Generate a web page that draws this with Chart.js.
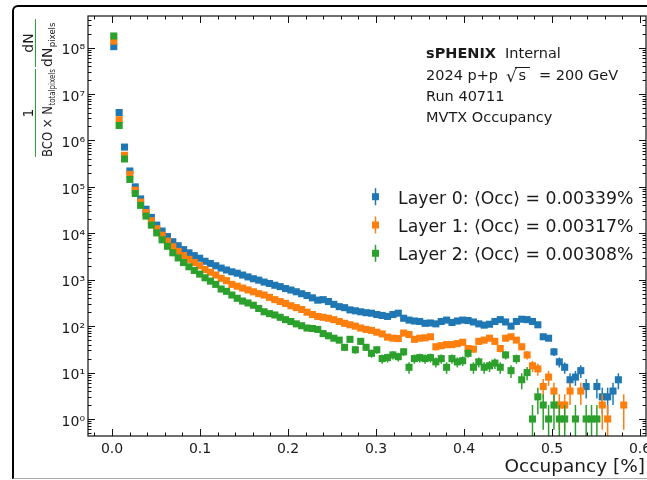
<!DOCTYPE html>
<html>
<head>
<meta charset="utf-8">
<script src="https://cdn.jsdelivr.net/npm/chart.js@4"></script>
<style>
html, body { margin: 0; padding: 0; background: #fff; }
#wrap { position: relative; width: 647px; height: 480px; overflow: hidden; }
#wrap canvas { position: absolute; left: 0; top: 0; }
#frame { position: absolute; left: 12px; top: 5px; width: 700px; height: 474px; box-sizing: border-box;
         border-left: 2px solid #000; border-top: 2px solid #000; border-bottom: 1px solid #aaa;
         border-top-left-radius: 6px; }
</style>
</head>
<body>
<div id="wrap">
  <canvas id="occChart" width="647" height="480"></canvas>
  <div id="frame"></div>
</div>
<script>
// bin centres, occupancy in %
var occupancy = [
  0.0020, 0.0081, 0.0142, 0.0203, 0.0264, 0.0325, 0.0386, 0.0447, 0.0508, 0.0569,
  0.0630, 0.0691, 0.0752, 0.0813, 0.0874, 0.0935, 0.0996, 0.1057, 0.1118, 0.1179,
  0.1240, 0.1301, 0.1362, 0.1423, 0.1484, 0.1545, 0.1606, 0.1667, 0.1728, 0.1789,
  0.1850, 0.1911, 0.1972, 0.2033, 0.2094, 0.2155, 0.2216, 0.2277, 0.2338, 0.2399,
  0.2460, 0.2521, 0.2582, 0.2643, 0.2704, 0.2765, 0.2826, 0.2887, 0.2948, 0.3009,
  0.3070, 0.3131, 0.3192, 0.3253, 0.3314, 0.3375, 0.3436, 0.3497, 0.3558, 0.3619,
  0.3680, 0.3741, 0.3802, 0.3863, 0.3924, 0.3985, 0.4046, 0.4107, 0.4168, 0.4229,
  0.4290, 0.4351, 0.4412, 0.4473, 0.4534, 0.4595, 0.4656, 0.4717, 0.4778, 0.4839,
  0.4900, 0.4961, 0.5022, 0.5083, 0.5144, 0.5205, 0.5266, 0.5327, 0.5388, 0.5449,
  0.5510, 0.5571, 0.5632, 0.5693, 0.5754, 0.5815
];

var layer0 = [
  1.05e8, 4.0e6, 7.2e5, 2.2e5, 1.0e5, 5.5e4, 3.3e4, 2.2e4, 1.5e4, 1.12e4,
  8500, 6600, 5400, 4450, 3800, 3300, 2900, 2500, 2240, 2000,
  1780, 1620, 1480, 1380, 1260, 1150, 1050, 980, 890, 830,
  760, 710, 645, 600, 550, 500, 457, 407, 363, 372,
  339, 295, 263, 250, 224, 214, 204, 195, 190, 178,
  170, 162, 178, 190, 148, 135, 129, 126, 115, 117,
  112, 126, 135, 120, 129, 135, 132, 123, 112, 105,
  110, 126, 138, 123, 100, 126, 141, 138, 126, 107,
  59, 55, 28, 17, 13, 7, 8, 11, 5, null,
  5, 3, 3, 4, 7, null
];

var layer1 = [
  1.38e8, 2.8e6, 4.8e5, 1.86e5, 8.5e4, 4.7e4, 2.8e4, 1.86e4, 1.26e4, 9100,
  6760, 5130, 4070, 3310, 2750, 2340, 2000, 1660, 1450, 1260,
  1070, 955, 794, 724, 660, 603, 550, 501, 468, 417,
  372, 339, 309, 275, 251, 229, 200, 178, 162, 155,
  148, 138, 126, 115, 107, 100, 91, 85, 81, 74,
  68, 58, 55, 54, 71, 66, 52, 55, 56, 59,
  36, 38, 40, 40, 42, 45, 33, 32, 47, 50,
  55, 47, 33, 55, 59, 50, 36, 24, 14, 12,
  5, 8, 4, 2, 2, 4, null, 4, null, null,
  null, 2, 1, null, null, 2
];

var layer2 = [
  1.78e8, 2.1e6, 4.0e5, 1.45e5, 7.2e4, 4.0e4, 2.35e4, 1.5e4, 1.02e4, 7240,
  5250, 3800, 2950, 2340, 1900, 1580, 1320, 1100, 933, 794,
  631, 562, 468, 398, 347, 316, 282, 240, 204, 186,
  174, 155, 138, 126, 112, 102, 91, 89, 85, 69,
  62, 55, 50, 35, 52, 31, 47, 35, 26, 31,
  20, 21, 24, 22, 28, 13, 20, 21, 20, 21,
  17, 20, 13, 20, 17, 18, 26, 13, 17, 13,
  14, 16, 13, 24, 11, 20, 7, 10, 1, 3,
  2, 1, 2, 1, 1, null, 1, null, 1, 1,
  1, null, null, null, null, null
];

var legendLabels = [
  'Layer 0: \u27E8Occ\u27E9 = 0.00339%',
  'Layer 1: \u27E8Occ\u27E9 = 0.00317%',
  'Layer 2: \u27E8Occ\u27E9 = 0.00308%'
];
var infoLines = ['Run 40711', 'MVTX Occupancy'];
var colors = ['#1f77b4', '#ff7f0e', '#2ca02c'];
var FONT = '"DejaVu Sans", sans-serif';
var TEXT = '#1a1a1a';

var toPoints = function toPoints(values) {
  var points = [];
  occupancy.forEach(function (x, i) {
    if (values[i] !== null) {
      points.push({x: x, y: values[i]});
    }
  });
  return points;
};

var superscript = function superscript(n) {
  var digits = '\u2070\u00B9\u00B2\u00B3\u2074\u2075\u2076\u2077\u2078\u2079';
  return (n < 0 ? '\u207B' : '') + String(Math.abs(n)).split('').map(function (d) { return digits[+d]; }).join('');
};

// poisson error bars, drawn just before each series' markers
var errorBars = {
  id: 'errorBars',
  beforeDatasetDraw: function (chart, args) {
    var ds = chart.data.datasets[args.index];
    var xs = chart.scales.x, ys = chart.scales.y, area = chart.chartArea, ctx = chart.ctx;
    ctx.save();
    ctx.beginPath();
    ctx.rect(area.left, area.top, area.right - area.left, area.bottom - area.top);
    ctx.clip();
    ctx.strokeStyle = ds.backgroundColor;
    ctx.lineWidth = 1.5;
    ds.data.forEach(function (p) {
      var err = Math.sqrt(p.y);
      var px = xs.getPixelForValue(p.x);
      var top = ys.getPixelForValue(p.y + err);
      var bottom = (p.y - err > 0) ? ys.getPixelForValue(p.y - err) : area.bottom + 5;
      ctx.beginPath();
      ctx.moveTo(px, top);
      ctx.lineTo(px, bottom);
      ctx.stroke();
    });
    ctx.restore();
  }
};

// matplotlib style box with inward ticks on all four sides
var boxTicks = {
  id: 'boxTicks',
  afterDraw: function (chart) {
    var ctx = chart.ctx, a = chart.chartArea, xs = chart.scales.x, ys = chart.scales.y;
    ctx.save();
    ctx.strokeStyle = '#111';
    ctx.lineWidth = 1.2;
    ctx.strokeRect(a.left, a.top, a.right - a.left, a.bottom - a.top);
    ctx.lineWidth = 1;
    for (var i = -1; i <= 30; i++) {
      var v = i * 0.02;
      if (v < xs.min || v > xs.max) continue;
      var px = Math.round(xs.getPixelForValue(v)) + 0.5;
      var len = (i % 5 === 0) ? 7 : 3.5;
      ctx.beginPath();
      ctx.moveTo(px, a.bottom); ctx.lineTo(px, a.bottom - len);
      ctx.moveTo(px, a.top); ctx.lineTo(px, a.top + len);
      ctx.stroke();
    }
    for (var e = -1; e <= 8; e++) {
      for (var m = 1; m <= 9; m++) {
        var val = m * Math.pow(10, e);
        if (val < ys.min || val > ys.max) continue;
        var py = Math.round(ys.getPixelForValue(val)) + 0.5;
        var l = (m === 1) ? 7 : 3.5;
        ctx.beginPath();
        ctx.moveTo(a.left, py); ctx.lineTo(a.left + l, py);
        ctx.moveTo(a.right, py); ctx.lineTo(a.right - l, py);
        ctx.stroke();
      }
    }
    ctx.restore();
  }
};

var drawRun = function drawRun(ctx, parts, x, y) {
  parts.forEach(function (p) {
    ctx.font = p.font;
    ctx.fillText(p.text, x, y + (p.dy || 0));
    x += ctx.measureText(p.text).width + (p.gap || 0);
  });
  return x;
};

var runWidth = function runWidth(ctx, parts) {
  var w = 0;
  parts.forEach(function (p) {
    ctx.font = p.font;
    w += ctx.measureText(p.text).width + (p.gap || 0);
  });
  return w;
};

var annotations = {
  id: 'annotations',
  afterDraw: function (chart) {
    var ctx = chart.ctx;
    ctx.save();
    ctx.fillStyle = TEXT;
    ctx.strokeStyle = TEXT;
    ctx.textBaseline = 'alphabetic';
    ctx.textAlign = 'left';

    // info block
    var fs = '14.5px ' + FONT;
    ctx.font = 'bold ' + fs;
    ctx.fillText('sPHENIX', 426, 58.3);
    var w = ctx.measureText('sPHENIX').width;
    ctx.font = fs;
    ctx.fillText('Internal', 426 + w + 9, 58.3);
    ctx.fillText('2024 p+p', 426, 80);
    ctx.font = '17px ' + FONT;
    ctx.fillText('\u221A', 506, 81.5);
    ctx.font = fs;
    ctx.fillText('s', 518.5, 80);
    ctx.lineWidth = 1;
    ctx.beginPath();
    ctx.moveTo(515, 67.5); ctx.lineTo(530, 67.5);
    ctx.stroke();
    ctx.fillText('= 200 GeV', 539, 80);
    infoLines.forEach(function (t, i) {
      ctx.fillText(t, 426, 100.7 + i * 21);
    });

    // legend
    ctx.font = '17.3px ' + FONT;
    legendLabels.forEach(function (t, i) {
      var cy = 196.7 + i * 28.3;
      ctx.fillStyle = colors[i];
      ctx.strokeStyle = colors[i];
      ctx.lineWidth = 1.5;
      ctx.beginPath();
      ctx.moveTo(375.5, cy - 8.5); ctx.lineTo(375.5, cy + 8.5);
      ctx.stroke();
      ctx.fillRect(372, cy - 3.5, 7, 7);
      ctx.fillStyle = TEXT;
      ctx.fillText(t, 398, cy + 6.8);
    });

    // x title
    ctx.font = '18.5px ' + FONT;
    ctx.textAlign = 'right';
    ctx.fillText('Occupancy [%]', 645, 472);

    // y title, rotated fractions
    ctx.textAlign = 'left';
    ctx.translate(52, 157);
    ctx.rotate(-Math.PI / 2);
    var big = '14px ' + FONT, small = '8.5px ' + FONT;
    var den1 = [{text: 'BCO \u00D7 N', font: big, gap: 0.5}, {text: 'totalpixels', font: small, dy: 3}];
    var den2 = [{text: 'dN', font: big, gap: 0.5}, {text: 'pixels', font: small, dy: 3}];
    var len1 = 88, start2 = 90, len2 = 48;
    var w1 = runWidth(ctx, den1), w2 = runWidth(ctx, den2);
    ctx.save();
    ctx.scale(Math.min(1, len1 / w1), 1);
    drawRun(ctx, den1, 0, 0);
    ctx.restore();
    ctx.save();
    ctx.translate(start2, 0);
    ctx.scale(Math.min(1, len2 / w2), 1);
    drawRun(ctx, den2, 0, 0);
    ctx.restore();
    ctx.lineWidth = 1;
    ctx.beginPath();
    ctx.moveTo(0, -16.5); ctx.lineTo(len1, -16.5);
    ctx.moveTo(start2, -16.5); ctx.lineTo(start2 + len2, -16.5);
    ctx.stroke();
    ctx.font = big;
    ctx.textAlign = 'center';
    ctx.fillText('1', len1 / 2, -19.5);
    ctx.fillText('dN', start2 + len2 / 2, -19.5);
    ctx.restore();
  }
};

var datasets = [layer0, layer1, layer2].map(function (values, i) {
  return {
    label: legendLabels[i],
    data: toPoints(values),
    backgroundColor: colors[i],
    borderColor: colors[i],
    borderWidth: 0,
    pointStyle: 'rect',
    pointRadius: 5,
    order: 3 - i
  };
});

var noPadding = function noPadding(scale) {
  scale.paddingLeft = 0;
  scale.paddingRight = 0;
  scale.paddingTop = 0;
  scale.paddingBottom = 0;
};

new Chart(document.getElementById('occChart'), {
  type: 'scatter',
  data: { datasets: datasets },
  options: {
    responsive: false,
    animation: false,
    events: [],
    layout: { autoPadding: false, padding: { top: 16, right: 1, left: 0, bottom: 0 } },
    plugins: { legend: { display: false }, tooltip: { enabled: false } },
    scales: {
      x: {
        type: 'linear',
        min: -0.0273,
        max: 0.6068,
        afterFit: function (scale) { scale.height = 44; noPadding(scale); },
        grid: { display: false, drawTicks: false },
        border: { display: false },
        ticks: {
          stepSize: 0.1,
          includeBounds: false,
          autoSkip: false,
          maxRotation: 0,
          padding: 5,
          color: TEXT,
          font: { family: 'DejaVu Sans', size: 14 },
          callback: function (value) { return value.toFixed(1); }
        }
      },
      y: {
        type: 'logarithmic',
        min: 0.43,
        max: 4.8e8,
        afterFit: function (scale) { scale.width = 88; noPadding(scale); },
        grid: { display: false, drawTicks: false },
        border: { display: false },
        ticks: {
          autoSkip: false,
          padding: 3,
          labelOffset: 3,
          color: TEXT,
          font: { family: 'DejaVu Sans', size: 14 },
          callback: function (value) {
            var e = Math.log10(value);
            var r = Math.round(e);
            return Math.abs(e - r) < 1e-6 ? '10' + superscript(r) : '';
          }
        }
      }
    }
  },
  plugins: [errorBars, boxTicks, annotations]
});
</script>
</body>
</html>
